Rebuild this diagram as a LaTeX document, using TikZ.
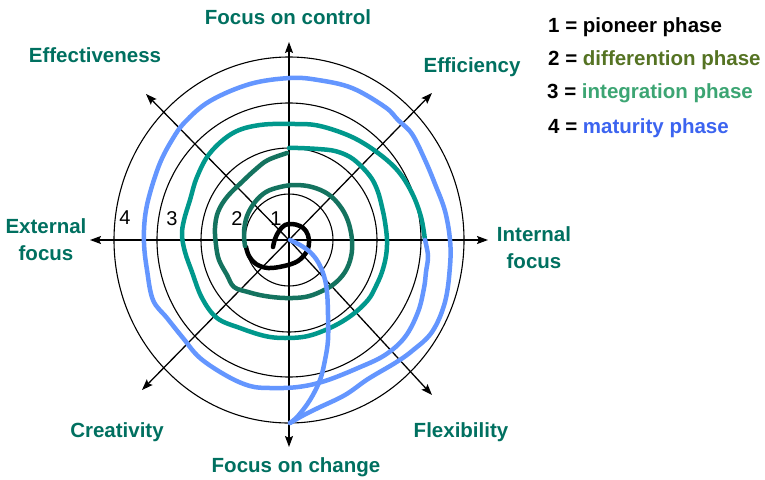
\documentclass[tikz,border=0pt]{standalone}
\usepackage{fontspec}
\setmainfont{Liberation Sans}
\usetikzlibrary{arrows.meta}
\definecolor{lbl}{RGB}{0,112,96}
\definecolor{ph2}{RGB}{20,115,95}
\definecolor{ph3}{RGB}{0,152,140}
\definecolor{ph4}{RGB}{100,150,255}
\definecolor{lg2}{RGB}{85,115,35}
\definecolor{lg3}{RGB}{60,165,115}
\definecolor{lg4}{RGB}{60,100,240}
\begin{document}
\begin{tikzpicture}[x=1pt,y=-1pt,
  lab/.style={font=\fontsize{20.5}{27}\selectfont\bfseries, text=lbl, align=center, inner sep=0pt, anchor=base},
  leg/.style={font=\fontsize{20.5}{23}\selectfont\bfseries, anchor=base west, inner sep=0pt},
  num/.style={font=\fontsize{20}{23}\selectfont, inner sep=0pt, anchor=base},
  ring/.style={line width=1.1pt},
  axis/.style={line width=1.3pt, -{Stealth[length=11pt,width=8pt,inset=2pt]}},
  phase/.style={line width=4.5pt, line cap=round, line join=round},
]
\useasboundingbox (0,0) rectangle (765,479);
\fill[white] (0,0) rectangle (765,479);
% centre and axis tips
\coordinate (C) at (289,240);
\coordinate (T) at (289,42);
\coordinate (B) at (289,447);
\coordinate (L) at (90,240);
\coordinate (R) at (488,240);
\coordinate (NW) at (146,94);
\coordinate (NE) at (432,93);
\coordinate (SW) at (142,390);
\coordinate (SE) at (432,395);
% rings
\draw[ring] (C) ellipse [x radius=44pt, y radius=46pt];
\draw[ring] (C) ellipse [x radius=88pt, y radius=92pt];
\draw[ring] (C) ellipse [x radius=132pt, y radius=137pt];
\draw[ring] (C) ellipse [x radius=175pt, y radius=183pt];
% axes
\foreach \t in {T,B,L,R,NW,NE,SW,SE} \draw[axis] (C) -- (\t);
% phase 1
\draw[phase, black] plot[smooth, tension=0.6] coordinates {(273,247) (275,239) (279,231) (285,225) (292,224) (300,226) (306,231) (309,240) (307,251) (298,261) (284,266) (268,268) (256,264) (249,256) (246,247)};
% phase 2
\draw[phase, ph2] plot[smooth, tension=0.6] coordinates {(245,246) (244,232) (247,216) (255,202) (266,192) (280,187) (295,185) (312,187) (328,194) (340,206) (348,221) (352,240) (351,257) (345,272) (334,284) (320,292) (305,297) (285,298) (265,296) (248,292) (234,287) (227,275) (219,260) (216,245) (215,228) (218,212) (227,197) (243,181) (256,169) (268,160) (287,153)};
% phase 3
\draw[phase, ph3] plot[smooth, tension=0.6] coordinates {(289,148) (298,148) (318,149) (335,151) (350,157) (362,167) (372,179) (378,192) (382,207) (385,222) (387,240) (386,256) (382,272) (376,286) (368,300) (352,315) (332,327) (308,336) (285,338) (265,336) (240,328) (217,318) (202,298) (192,272) (185,252) (182,235) (184,220) (190,200) (197,177) (210,153) (233,133) (260,125) (295,124) (320,126) (352,137) (378,153) (398,171) (412,193) (421,217) (425,240)};
% phase 4
\draw[phase, ph4] plot[smooth, tension=0.6] coordinates {(425,240) (428,256) (426,272) (424,288) (418,312) (405,337) (385,355) (358,368) (325,381) (298,387) (270,388) (250,386) (227,376) (200,358) (183,338) (167,318) (153,300) (147,270) (144,243) (145,217) (150,193) (160,163) (172,140) (185,122) (210,101) (250,84) (290,78) (318,80) (352,88) (385,107) (398,120) (412,134) (425,160) (435,184) (445,211) (450,240) (450,266) (445,302) (432,332) (412,351) (395,363) (368,379) (345,395) (318,408) (302,416) (290,423)};
\draw[phase, ph4] plot[smooth, tension=0.6] coordinates {(290,423) (298,416) (310,400) (320,380) (325,360) (328,340) (328,315) (327,292) (324,276) (318,262) (310,252) (300,245) (290,240)};
% ring numbers
\node[num] (n4) at (125,224) {4};
\node[num] (n3) at (172,225) {3};
\node[num] (n2) at (237,225) {2};
\node[num] (n1) at (276,225) {1};
% axis labels
\node[lab] (lt) at (288,24) {Focus on control};
\node[lab] (lnw) at (95,62) {Effectiveness};
\node[lab] (lne) at (472,72) {Efficiency};
\node[lab] (lw) at (46,260) {External\\focus};
\node[lab] (le) at (534,268) {Internal\\focus};
\node[lab] (lsw) at (117,437) {Creativity};
\node[lab] (lse) at (461,437) {Flexibility};
\node[lab] (lb) at (296,472) {Focus on change};
% legend
\node[leg] (g1) at (548,32) {1 = pioneer phase};
\node[leg] (g2) at (548,65) {2 = \textcolor{lg2}{differention phase}};
\node[leg] (g3) at (547,98) {3 = \textcolor{lg3}{integration phase}};
\node[leg] (g4) at (548,133) {4 = \textcolor{lg4}{maturity phase}};
\end{tikzpicture}
\end{document}
